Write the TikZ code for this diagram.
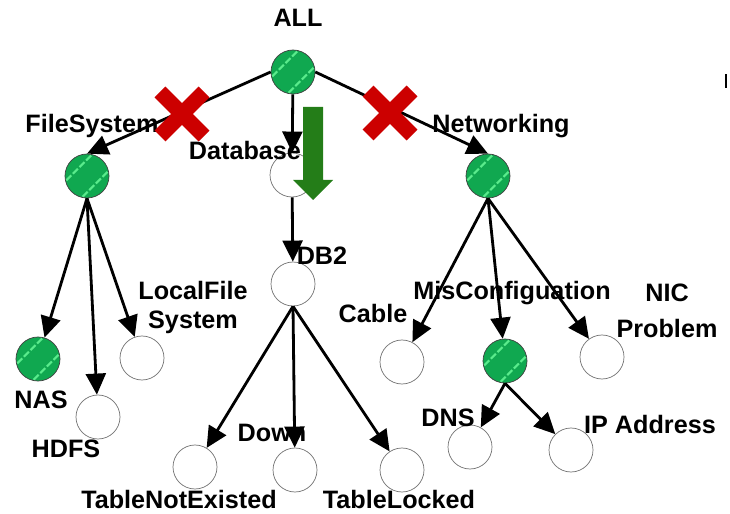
\documentclass[tikz,border=0pt]{standalone}
\usepackage{fontspec}
\setmainfont{Liberation Sans}
\usetikzlibrary{arrows.meta}

\definecolor{leafgreen}{RGB}{16,168,80}
\definecolor{stripegreen}{RGB}{90,235,140}
\definecolor{crossred}{RGB}{204,0,0}
\definecolor{pushgreen}{RGB}{36,125,24}

\tikzset{
  state/.style={circle,draw=black!55,line width=0.6pt,minimum size=1.32cm,inner sep=0pt,fill=white},
  active/.style={state,draw=black!75,fill=leafgreen,
    path picture={
      \foreach \d in {-7,7}{
        \draw[stripegreen,line width=1.8pt,dash pattern=on 6pt off 2pt]
          ([shift={({(\d-22)*1pt},{(-\d-22)*1pt})}]path picture bounding box.center) --
          ([shift={({(\d+22)*1pt},{(-\d+22)*1pt})}]path picture bounding box.center);
      }}},
  lbl/.style={font=\fontsize{21.5}{24}\selectfont\bfseries,inner sep=0pt,anchor=base,align=center},
  edge/.style={line width=2.4pt,-{Triangle[length=18pt,width=17pt]}},
  cross/.style={crossred,line width=13pt},
}

\begin{document}
\begin{tikzpicture}[x=0.03cm,y=-0.03cm]
\useasboundingbox (0,0) rectangle (730,514);

% tree nodes
\node[active] (all)  at (293,72)  {};
\node[active] (fs)   at (87,176)  {};
\node[state]  (db)   at (292,175) {};
\node[active] (nw)   at (488,176) {};
\node[active] (nas)  at (38,359)  {};
\node[state]  (hdfs) at (98,417)  {};
\node[state]  (lfs)  at (142,358) {};
\node[state]  (db2)  at (293,284) {};
\node[state]  (tne)  at (195,467) {};
\node[state]  (down) at (295,470) {};
\node[state]  (tl)   at (402,470) {};
\node[state]  (cab)  at (402,362) {};
\node[active] (mis)  at (505,361) {};
\node[state]  (nic)  at (602,357) {};
\node[state]  (dns)  at (470,447) {};
\node[state]  (ip)   at (571,450) {};

% labels (two-line labels are placed by the baseline of their last line)
\node[lbl] (lall)  at (298,27)  {ALL};
\node[lbl] (lfsys) at (92,133)  {FileSystem};
\node[lbl] (ldb)   at (245,160) {Database};
\node[lbl] (lnw)   at (501,133) {Networking};
\node[lbl] (lnas)  at (41,408)  {NAS};
\node[lbl] (lhdfs) at (66,457)  {HDFS};
\node[lbl] (llfs)  at (193,328) {LocalFile\\[0.5pt]System};
\node[lbl] (ldb2)  at (322,265) {DB2};
\node[lbl] (ltne)  at (179,508) {TableNotExisted};
\node[lbl] (ldown) at (272,441) {Down};
\node[lbl] (ltl)   at (399,508) {TableLocked};
\node[lbl] (lcab)  at (373,323) {Cable};
\node[lbl] (lmis)  at (512,300) {MisConfiguation};
\node[lbl] (lnic)  at (667,338) {NIC\\[7pt]Problem};
\node[lbl] (ldns)  at (448,426) {DNS};
\node[lbl] (lip)   at (650,433) {IP Address};

% connectors
\draw[edge] (all.west) -- (fs.north);
\draw[edge] (all) -- (db);
\draw[edge] (all.east) -- (nw.north);
\draw[edge] (fs.south) -- (nas);
\draw[edge] (fs.south) -- (hdfs);
\draw[edge] (fs.south) -- (lfs);
\draw[edge] (db) -- (db2);
\draw[edge] (db2.south) -- (tne);
\draw[edge] (db2.south) -- (down);
\draw[edge] (db2.south) -- (tl);
\draw[edge] (nw.south) -- (cab);
\draw[edge] (nw.south) -- (mis);
\draw[edge] (nw.south) -- (nic);
\draw[edge] (mis.south) -- (dns);
\draw[edge] (mis.south) -- (ip);

% red crosses over the pruned branches
\foreach \cx/\cy in {182/114, 390/113}{
  \draw[cross] (\cx-22,\cy-22) -- (\cx+22,\cy+22);
  \draw[cross] (\cx-22,\cy+22) -- (\cx+22,\cy-22);
}

% green downward arrow beside Database
\fill[pushgreen] (303,107) -- (323,107) -- (323,180) -- (333,180) -- (313,200)
  -- (293,180) -- (303,180) -- cycle;

% small mark at the right edge
\fill[black] (725,74) rectangle (727,88);
\end{tikzpicture}
\end{document}
